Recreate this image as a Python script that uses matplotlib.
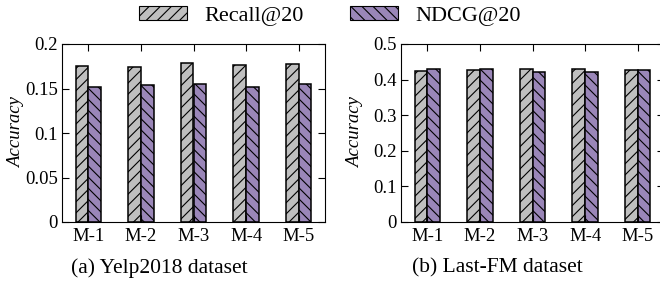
import matplotlib
matplotlib.use("Agg")
import matplotlib.pyplot as plt
import numpy as np
from matplotlib.patches import Patch

plt.rcParams['font.family'] = ['Liberation Serif', 'DejaVu Serif']
plt.rcParams['hatch.linewidth'] = 0.8
plt.rcParams['hatch.color'] = '#222222'

models = ["M-1", "M-2", "M-3", "M-4", "M-5"]
series_names = ["Recall@20", "NDCG@20"]

yelp_recall = [0.175, 0.174, 0.179, 0.176, 0.178]
yelp_ndcg = [0.152, 0.154, 0.155, 0.152, 0.155]

lastfm_recall = [0.424, 0.427, 0.429, 0.430, 0.426]
lastfm_ndcg = [0.429, 0.429, 0.421, 0.421, 0.426]

yelp_ticks = [0, 0.05, 0.1, 0.15, 0.2]
yelp_ticklabels = ["0", "0.05", "0.1", "0.15", "0.2"]
lastfm_ticks = [0, 0.1, 0.2, 0.3, 0.4, 0.5]
lastfm_ticklabels = ["0", "0.1", "0.2", "0.3", "0.4", "0.5"]

captions = ["(a) Yelp2018 dataset", "(b) Last-FM dataset"]

gray = '#bfbfbf'
purple = '#9a86b8'
hatches = ['///', '\\\\\\']

fig = plt.figure(figsize=(6.6, 2.82), dpi=100)
ax1 = fig.add_axes([62/660, 60/282, 263/660, 178/282])
ax2 = fig.add_axes([401/660, 60/282, 263/660, 178/282])

bw = 0.24
x = np.arange(len(models))

def draw(ax, rec, ndcg, ticks, ticklabels, top):
    ax.bar(x - bw/2, rec, bw, color=gray, edgecolor='black', linewidth=1.1, hatch=hatches[0])
    ax.bar(x + bw/2, ndcg, bw, color=purple, edgecolor='black', linewidth=1.1, hatch=hatches[1])
    ax.set_xlim(-0.5, 4.5)
    ax.set_ylim(0, top)
    ax.set_xticks(x)
    ax.set_xticklabels(models, fontsize=13.5)
    ax.set_yticks(ticks)
    ax.set_yticklabels(ticklabels, fontsize=13.5)
    ax.tick_params(direction='in', top=True, right=True, length=5, width=0.8)
    ax.tick_params(axis='x', pad=4)
    ax.tick_params(axis='y', pad=3)
    ax.set_ylabel("Accuracy", fontsize=13.5, style='italic')
    ax.yaxis.set_label_coords(-0.142, 0.5)
    for s in ax.spines.values():
        s.set_linewidth(0.8)

draw(ax1, yelp_recall, yelp_ndcg, yelp_ticks, yelp_ticklabels, 0.2)
draw(ax2, lastfm_recall, lastfm_ndcg, lastfm_ticks, lastfm_ticklabels, 0.5)

fig.text(159/660, 1 - 268/282, captions[0], ha='center', va='center', fontsize=15.5)
fig.text(497/660, 1 - 268/282, captions[1], ha='center', va='center', fontsize=15.5)

handles = [Patch(facecolor=gray, edgecolor='black', hatch=hatches[0], linewidth=0.8),
           Patch(facecolor=purple, edgecolor='black', hatch=hatches[1], linewidth=0.8)]
fig.legend(handles, series_names, loc='center', bbox_to_anchor=(0.5, 1 - 16/282),
           ncol=2, frameon=False, fontsize=16, handlelength=2.16, handleheight=0.6,
           columnspacing=2.1, handletextpad=0.77, borderpad=0, borderaxespad=0)

fig.savefig("out.png", dpi=100)
